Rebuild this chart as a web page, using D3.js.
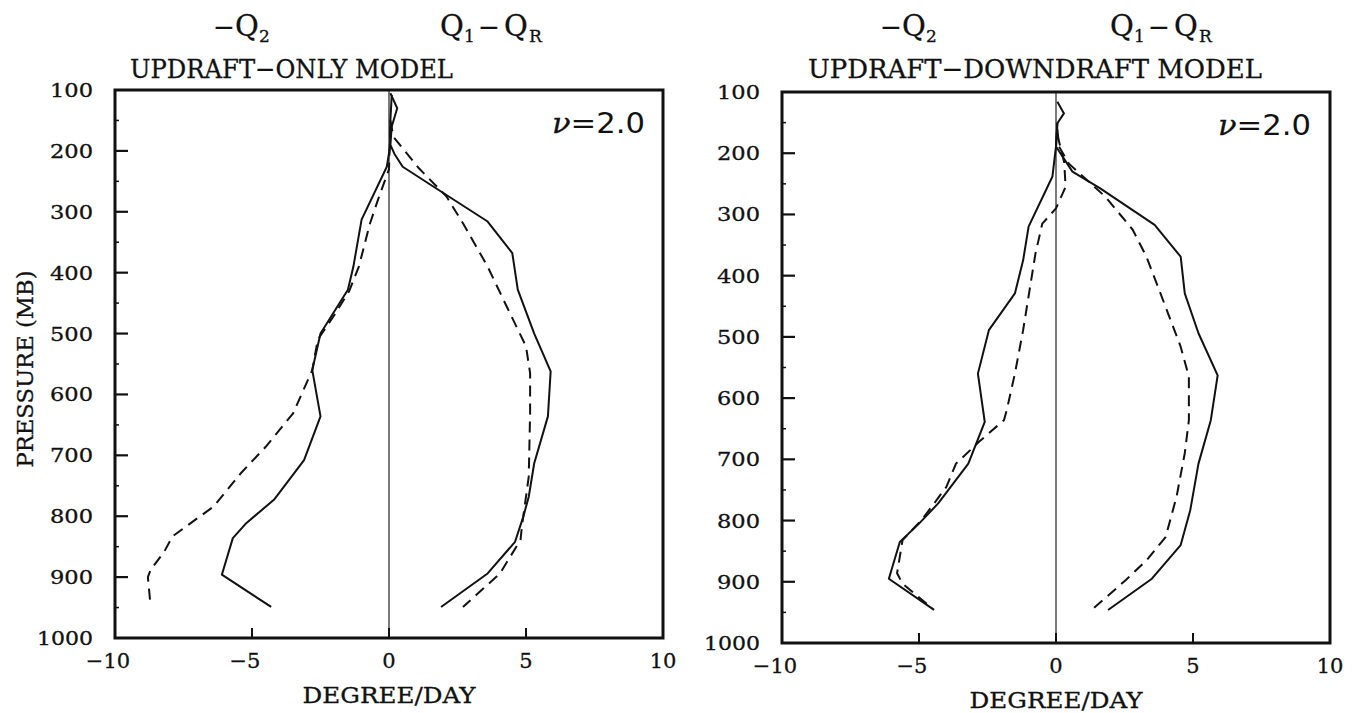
<!DOCTYPE html>
<html>
<head>
<meta charset="utf-8">
<script src="https://cdn.jsdelivr.net/npm/d3@7"></script>
<style>
  body { margin: 0; background: #fff; }
  svg { display: block; }
  text { font-family: "DejaVu Serif", "Liberation Serif", serif; fill: #111; stroke: #111; stroke-width: 0.3px; }
</style>
</head>
<body>
<svg id="chart" width="1352" height="713"></svg>
<script>
'use strict';
// values: [degree/day, pressure mb]
var pressureTicks = [100, 200, 300, 400, 500, 600, 700, 800, 900, 1000];
var degreeTicks = [-10, -5, 0, 5, 10];

var upOnlyQ2Solid = [[0.1, 108], [0.05, 150], [0.04, 193], [-0.08, 226], [-1.0, 313], [-1.3, 390], [-1.5, 428],
    [-2.5, 500], [-2.8, 560], [-2.5, 636], [-3.1, 708], [-4.2, 773], [-5.2, 811], [-5.7, 836], [-6.1, 896], [-4.3, 949]];
var upOnlyQ2Dash = [[0.05, 160], [0.0, 230], [-0.4, 280], [-0.7, 320], [-1.1, 390], [-1.45, 430], [-2.0, 470],
    [-2.6, 510], [-2.8, 560], [-3.5, 631], [-4.5, 686], [-5.4, 729], [-6.4, 784], [-7.9, 833], [-8.2, 858],
    [-8.7, 888], [-8.8, 900], [-8.7, 948]];
var upOnlyQ1Solid = [[0.05, 105], [0.3, 130], [0.1, 160], [0.05, 190], [0.2, 205], [0.5, 226], [1.7, 261],
    [3.6, 316], [4.5, 368], [4.7, 428], [5.3, 500], [5.9, 562], [5.8, 636], [5.3, 713], [5.1, 768], [4.9, 801],
    [4.6, 842], [3.6, 894], [1.9, 949]];
var upOnlyQ1Dash = [[0.05, 150], [0.16, 177], [1.1, 229], [2.1, 275], [2.7, 319], [3.6, 390], [4.3, 456],
    [5.0, 521], [5.15, 565], [5.15, 630], [5.1, 735], [4.85, 817], [4.8, 839], [4.05, 894], [2.7, 949]];

var upDownQ2Solid = [[0.05, 150], [0.0, 189], [-0.13, 238], [-1.0, 320], [-1.2, 375], [-1.5, 429], [-2.45, 489],
    [-2.85, 560], [-2.6, 639], [-3.2, 707], [-4.3, 772], [-5.0, 805], [-5.7, 835], [-6.1, 895], [-4.45, 946]];
var upDownQ2Dash = [[0.05, 170], [0.3, 215], [0.35, 255], [0.0, 290], [-0.5, 315], [-0.75, 364], [-1.2, 489],
    [-1.5, 560], [-1.8, 620], [-1.9, 636], [-2.8, 671], [-3.65, 707], [-4.0, 745], [-4.9, 799], [-5.6, 832],
    [-5.8, 886], [-5.6, 903], [-4.5, 944]];
var upDownQ1Solid = [[0.05, 116], [0.29, 135], [0.05, 151], [0.0, 189], [0.6, 230], [1.6, 257], [3.6, 317],
    [4.55, 369], [4.7, 429], [5.2, 494], [5.9, 563], [5.65, 636], [5.2, 707], [4.9, 783], [4.55, 840], [3.5, 895],
    [1.9, 946]];
var upDownQ1Dash = [[0.05, 160], [0.11, 189], [0.47, 217], [1.8, 271], [2.8, 325], [3.3, 369], [4.0, 451],
    [4.55, 516], [4.85, 565], [4.85, 636], [4.7, 690], [4.4, 761], [4.0, 827], [3.3, 865], [2.55, 897], [1.3, 946]];

var panels = [
    { box: [115, 90, 663, 638], title: 'UPDRAFT\u2212ONLY MODEL', titleX: 130, titleW: 323,
      q2X: 213, q1X: 440, nuX: 552, yLabel: true,
      series: [upOnlyQ2Solid, upOnlyQ2Dash, upOnlyQ1Solid, upOnlyQ1Dash] },
    { box: [782, 92, 1330, 643], title: 'UPDRAFT\u2212DOWNDRAFT MODEL', titleX: 808, titleW: 454,
      q2X: 880, q1X: 1110, nuX: 1218, yLabel: false,
      series: [upDownQ2Solid, upDownQ2Dash, upDownQ1Solid, upDownQ1Dash] }
];

var svg = d3.select('#chart');

// one glyph run of a heading, placed at its own x (no overlapping tspans)
function piece(g, x, y, size, txt) {
    g.append('text').attr('x', x).attr('y', y).style('font-size', size + 'px').text(txt);
}

panels.forEach(function(pn) {
    var x0 = pn.box[0], y0 = pn.box[1], x1 = pn.box[2], y1 = pn.box[3];
    var xScale = d3.scaleLinear().domain([-10, 10]).range([x0, x1]);
    var yScale = d3.scaleLinear().domain([100, 1000]).range([y0, y1]);
    var g = svg.append('g');

    // zero line
    g.append('line')
        .attr('x1', xScale(0)).attr('x2', xScale(0))
        .attr('y1', y0).attr('y2', y1)
        .attr('stroke', '#222').attr('stroke-width', 1.2);

    // left ticks (inward), small ones in between
    g.selectAll('.ytick').data(pressureTicks.slice(1, -1)).enter().append('line')
        .attr('x1', x0).attr('x2', x0 + 13)
        .attr('y1', function(d) { return yScale(d); })
        .attr('y2', function(d) { return yScale(d); })
        .attr('stroke', '#111').attr('stroke-width', 2.2);
    g.selectAll('.ymin').data(pressureTicks.slice(0, -1)).enter().append('line')
        .attr('x1', x0).attr('x2', x0 + 4)
        .attr('y1', function(d) { return yScale(d + 50); })
        .attr('y2', function(d) { return yScale(d + 50); })
        .attr('stroke', '#111').attr('stroke-width', 1.5);
    // bottom ticks
    g.selectAll('.xtick').data([-5, 0, 5]).enter().append('line')
        .attr('x1', function(d) { return xScale(d); })
        .attr('x2', function(d) { return xScale(d); })
        .attr('y1', y1).attr('y2', y1 - 10)
        .attr('stroke', '#111').attr('stroke-width', 2);

    // profiles
    var line = d3.line()
        .x(function(d) { return xScale(d[0]); })
        .y(function(d) { return yScale(d[1]); });
    pn.series.forEach(function(s, i) {
        g.append('path')
            .attr('d', line(s))
            .attr('fill', 'none')
            .attr('stroke', '#111')
            .attr('stroke-width', 2)
            .attr('stroke-linejoin', 'round')
            .attr('stroke-dasharray', i % 2 ? '11,7' : null);
    });

    // frame
    g.append('rect')
        .attr('x', x0).attr('y', y0)
        .attr('width', x1 - x0).attr('height', y1 - y0)
        .attr('fill', 'none').attr('stroke', '#111').attr('stroke-width', 3);

    // tick labels
    g.selectAll('.ylab').data(pressureTicks).enter().append('text')
        .attr('x', x0 - 22)
        .attr('y', function(d) { return yScale(d) + 7; })
        .attr('text-anchor', 'end')
        .style('font-size', '19px')
        .attr('textLength', function(d) { return d === 1000 ? 56 : 43; })
        .attr('lengthAdjust', 'spacingAndGlyphs')
        .text(function(d) { return d; });
    g.selectAll('.xlab').data(degreeTicks).enter().append('text')
        .attr('x', function(d) { return xScale(d) - (d < 0 ? 7 : 0); })
        .attr('y', y1 + 30)
        .attr('text-anchor', 'middle')
        .style('font-size', '21px')
        .text(function(d) { return d < 0 ? '\u2212' + Math.abs(d) : d; });

    g.append('text')
        .attr('x', xScale(0)).attr('y', y1 + 65)
        .attr('text-anchor', 'middle')
        .style('font-size', '23px')
        .attr('textLength', 173).attr('lengthAdjust', 'spacingAndGlyphs')
        .text('DEGREE/DAY');

    if (pn.yLabel) {
        g.append('text')
            .attr('transform', 'translate(33,' + ((y0 + y1) / 2 + 5) + ') rotate(-90)')
            .attr('text-anchor', 'middle')
            .style('font-size', '23px')
            .attr('textLength', 197).attr('lengthAdjust', 'spacingAndGlyphs')
            .text('PRESSURE (MB)');
    }

    // titles
    g.append('text')
        .attr('x', pn.titleX).attr('y', 78)
        .style('font-size', '26px')
        .attr('textLength', pn.titleW).attr('lengthAdjust', 'spacingAndGlyphs')
        .text(pn.title);

    // -Q2 and Q1-QR, each glyph run on its own
    piece(g, pn.q2X, 36, 26, '\u2212');
    piece(g, pn.q2X + 22, 36, 29, 'Q');
    piece(g, pn.q2X + 46, 42, 17, '2');

    piece(g, pn.q1X, 36, 29, 'Q');
    piece(g, pn.q1X + 24, 42, 17, '1');
    piece(g, pn.q1X + 38, 36, 26, '\u2212');
    piece(g, pn.q1X + 64, 36, 29, 'Q');
    piece(g, pn.q1X + 89, 42, 17, 'R');

    var nu = g.append('text').attr('x', pn.nuX).attr('y', y0 + 43)
        .style('font-size', '28px')
        .attr('textLength', 93).attr('lengthAdjust', 'spacingAndGlyphs');
    nu.append('tspan').style('font-style', 'italic').text('\u03bd');
    nu.append('tspan').style('font-family', '"DejaVu Sans", sans-serif').style('stroke-width', '0').text('=2.0');
});
</script>
</body>
</html>
